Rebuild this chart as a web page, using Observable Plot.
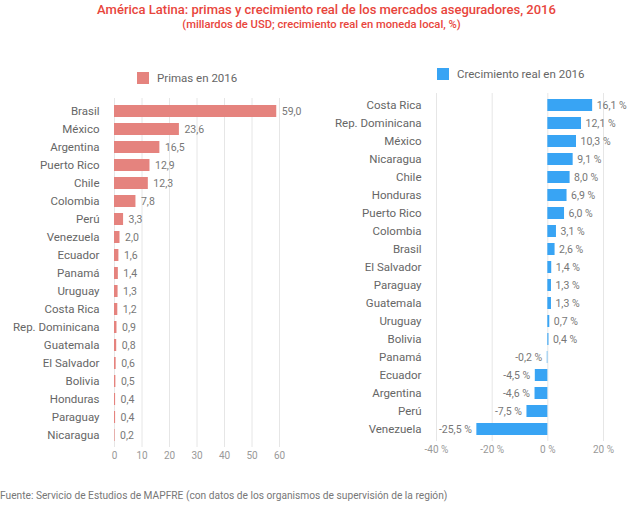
<!DOCTYPE html>
<html><head><meta charset="utf-8">
<script src="https://cdn.jsdelivr.net/npm/d3@7"></script>
<script src="https://cdn.jsdelivr.net/npm/@observablehq/plot@0.6"></script>
<style>
body{margin:0;background:#fff;font-family:Roboto,"Noto Sans",sans-serif;}
#wrap{position:relative;width:637px;height:508px;overflow:hidden;background:#fff}
.abs{position:absolute}
#title{left:0;width:653px;top:2px;text-align:center;color:#e8453c;font-size:13px;font-weight:500;white-space:nowrap}
#subtitle{left:0;width:643px;top:18px;text-align:center;color:#e8453c;font-size:11.2px;font-weight:500;white-space:nowrap}
.leg{font-size:11.5px;color:#666;white-space:nowrap;display:flex;align-items:center}
.sw{display:inline-block;width:12px;height:12px;margin-right:8px}
#foot{left:0;top:490px;font-size:10.2px;color:#777;white-space:nowrap}
</style></head>
<body><div id="wrap">
<div id="title" class="abs">América Latina: primas y crecimiento real de los mercados aseguradores, 2016</div>
<div id="subtitle" class="abs">(millardos de USD; crecimiento real en moneda local, %)</div>
<div id="leg1" class="abs leg" style="left:137px;top:71px"><span class="sw" style="background:#e5837e"></span>Primas en 2016</div>
<div id="leg2" class="abs leg" style="left:437px;top:67px"><span class="sw" style="background:#38a4f4"></span>Crecimiento real en 2016</div>
<div id="p1" class="abs" style="left:0;top:0"></div>
<div id="p2" class="abs" style="left:320px;top:0"></div>
<div id="foot" class="abs">Fuente: Servicio de Estudios de MAPFRE (con datos de los organismos de supervisión de la región)</div>
</div>
<script>
const primasPaises = ["Brasil","México","Argentina","Puerto Rico","Chile","Colombia","Perú","Venezuela","Ecuador","Panamá","Uruguay","Costa Rica","Rep. Dominicana","Guatemala","El Salvador","Bolivia","Honduras","Paraguay","Nicaragua"];
const primas = [59.0,23.6,16.5,12.9,12.3,7.8,3.3,2.0,1.6,1.4,1.3,1.2,0.9,0.8,0.6,0.5,0.4,0.4,0.2];
const crecPaises = ["Costa Rica","Rep. Dominicana","México","Nicaragua","Chile","Honduras","Puerto Rico","Colombia","Brasil","El Salvador","Paraguay","Guatemala","Uruguay","Bolivia","Panamá","Ecuador","Argentina","Perú","Venezuela"];
const crecimiento = [16.1,12.1,10.3,9.1,8.0,6.9,6.0,3.1,2.6,1.4,1.3,1.3,0.7,0.4,-0.2,-4.5,-4.6,-7.5,-25.5];
const primasTicks = [0,10,20,30,40,50,60];
const crecTicks = [-40,-20,0,20];

const fmt1 = v => v.toFixed(1).replace(".", ",");
const d1 = primasPaises.map((p,i)=>({pais:p, v:primas[i]}));
const d2 = crecPaises.map((p,i)=>({pais:p, v:crecimiento[i]}));

const style = {fontFamily:"Roboto, 'Noto Sans', sans-serif", fontSize:"11.5px", color:"#666", background:"transparent", overflow:"visible"};

const p1 = Plot.plot({
  width:320, height:470, marginTop:98, marginBottom:23, marginLeft:114, marginRight:41,
  style,
  x:{domain:[0,60]},
  y:{domain:primasPaises, padding:0.35},
  marks:[
    Plot.gridX(primasTicks,{stroke:"#e6e6e6", strokeOpacity:1}),
    Plot.barX(d1,{x:"v", y:"pais", fill:"#e5837e"}),
    Plot.text(d1,{x:"v", y:"pais", text:d=>fmt1(d.v), textAnchor:"start", dx:5, fill:"#777", fontSize:10.5}),
    Plot.axisY({tickSize:0, tickPadding:15, label:null, fontSize:11.5, color:"#666"}),
    Plot.axisX(primasTicks,{tickSize:0, tickPadding:4, label:null, fontSize:10, color:"#999"})
  ]
});
document.getElementById("p1").appendChild(p1);

const p2 = Plot.plot({
  width:317, height:466, marginTop:93, marginBottom:25, marginLeft:116, marginRight:34,
  style,
  x:{domain:[-40,20]},
  y:{domain:crecPaises, padding:0.33},
  marks:[
    Plot.gridX(crecTicks,{stroke:"#e6e6e6", strokeOpacity:1}),
    Plot.barX(d2,{x:"v", y:"pais", fill:"#38a4f4"}),
    Plot.text(d2.filter(d=>d.v>=0),{x:"v", y:"pais", text:d=>fmt1(d.v)+" %", textAnchor:"start", dx:4, fill:"#777", fontSize:10.5}),
    Plot.text(d2.filter(d=>d.v<0),{x:"v", y:"pais", text:d=>fmt1(d.v)+" %", textAnchor:"end", dx:-5, fill:"#777", fontSize:10.5}),
    Plot.axisY({tickSize:0, tickPadding:15, label:null, fontSize:11.5, color:"#666"}),
    Plot.axisX(crecTicks,{tickSize:0, tickPadding:4, label:null, fontSize:10, color:"#999", tickFormat:d=>d+" %"})
  ]
});
document.getElementById("p2").appendChild(p2);
</script>
</body></html>
